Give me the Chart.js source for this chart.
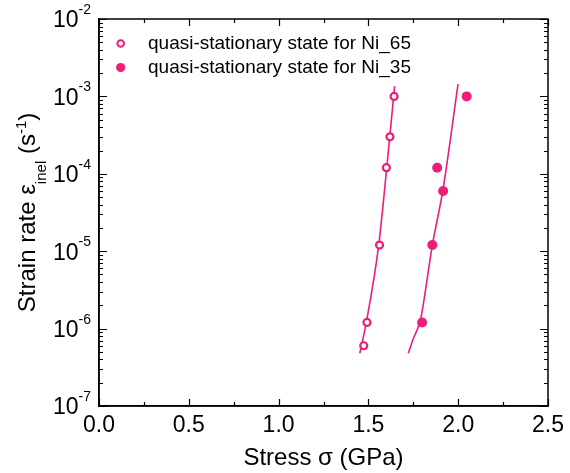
<!DOCTYPE html>
<html>
<head>
<meta charset="utf-8">
<script src="https://cdn.jsdelivr.net/npm/chart.js@4"></script>
<style>
  html, body { margin: 0; padding: 0; background: #fff; }
  #wrap { width: 570px; height: 473px; }
</style>
</head>
<body>
<div id="wrap"><canvas id="chartStrain" width="570" height="473"></canvas></div>
<script>
// measured points (stress in GPa, strain rate in 1/s)
const ni65Stress = [1.474, 1.492, 1.562, 1.600, 1.620, 1.643];
const ni65Rate   = [6e-7, 1.2e-6, 1.2e-5, 1.2e-4, 3e-4, 1e-3];
const ni35Stress = [1.799, 1.856, 1.883, 1.916, 2.047];
const ni35Rate   = [1.2e-6, 1.2e-5, 1.2e-4, 6e-5, 1e-3];

// fit curves
const fit65Stress = [1.452, 1.487, 1.557, 1.602, 1.646];
const fit65Rate   = [4.8e-7, 1.16e-6, 1.18e-5, 1.19e-4, 1.36e-3];
const fit35Stress = [1.722, 1.752, 1.790, 1.856, 1.914, 1.999];
const fit35Rate   = [4.8e-7, 7.6e-7, 1.3e-6, 1.2e-5, 6e-5, 1.44e-3];

const xTicks = [0, 0.5, 1.0, 1.5, 2.0, 2.5];
const yDecades = [-7, -6, -5, -4, -3, -2];
const seriesLabels = ["quasi-stationary state for Ni_65", "quasi-stationary state for Ni_35"];

const pink = "#ec1e79";
const fontFam = '"Liberation Sans", Arial, sans-serif';

const toPts = (xs, ys) => xs.map((v, i) => ({ x: v, y: ys[i] }));

function fnt(size) { return `${size}px ${fontFam}`; }

// frame, inward ticks, log labels, y title and legend
const decorations = {
  id: "decorations",
  afterDraw(chart) {
    const { ctx, chartArea: ca } = chart;
    const xs = chart.scales.x, ys = chart.scales.y;
    ctx.save();
    ctx.strokeStyle = "#000";
    ctx.lineWidth = 1.5;
    ctx.strokeRect(ca.left, ca.top, ca.right - ca.left, ca.bottom - ca.top);

    ctx.lineWidth = 1.2;
    ctx.beginPath();
    const xTick = (v, len) => {
      const px = Math.round(xs.getPixelForValue(v)) + 0.5;
      ctx.moveTo(px, ca.bottom); ctx.lineTo(px, ca.bottom - len);
      ctx.moveTo(px, ca.top); ctx.lineTo(px, ca.top + len);
    };
    const yTick = (v, len) => {
      const py = Math.round(ys.getPixelForValue(v)) + 0.5;
      ctx.moveTo(ca.left, py); ctx.lineTo(ca.left + len, py);
      ctx.moveTo(ca.right, py); ctx.lineTo(ca.right - len, py);
    };
    xTicks.forEach((v, i) => {
      xTick(v, 7);
      if (i < xTicks.length - 1) xTick((v + xTicks[i + 1]) / 2, 4);
    });
    yDecades.forEach((d, i) => {
      yTick(Math.pow(10, d), 8);
      if (i < yDecades.length - 1)
        for (let m = 2; m <= 9; m++) yTick(m * Math.pow(10, d), 4);
    });
    ctx.stroke();

    // y tick labels 10^n
    ctx.fillStyle = "#000";
    ctx.textBaseline = "alphabetic";
    yDecades.forEach(d => {
      const py = ys.getPixelForValue(Math.pow(10, d));
      const sup = String(d);
      ctx.font = fnt(14);
      const supW = ctx.measureText(sup).width;
      const right = 91;
      ctx.textAlign = "left";
      ctx.fillText(sup, right - supW, py - 5);
      ctx.font = fnt(23);
      ctx.textAlign = "right";
      ctx.fillText("10", right - supW, py + 8.3);
    });

    // y title with subscript / superscript
    const parts = [
      { t: "Strain rate \u03b5", size: 24, dy: 0 },
      { t: "inel", size: 15, dy: 11 },
      { t: " (s", size: 24, dy: 0 },
      { t: "-1", size: 15, dy: -9 },
      { t: ")", size: 24, dy: 0 }
    ];
    let total = 0;
    parts.forEach(p => { ctx.font = fnt(p.size); p.w = ctx.measureText(p.t).width; total += p.w; });
    ctx.translate(35, (ca.top + ca.bottom) / 2);
    ctx.rotate(-Math.PI / 2);
    ctx.textAlign = "left";
    let cx = -total / 2;
    parts.forEach(p => { ctx.font = fnt(p.size); ctx.fillText(p.t, cx, p.dy); cx += p.w; });
    ctx.setTransform(1, 0, 0, 1, 0, 0);

    // legend inside plot
    const rows = [
      { label: chart.data.datasets[0].label, open: true, y: 43.5 },
      { label: chart.data.datasets[1].label, open: false, y: 67.5 }
    ];
    rows.forEach(r => {
      ctx.beginPath();
      if (r.open) {
        ctx.arc(120.7, r.y, 3.3, 0, Math.PI * 2);
        ctx.fillStyle = "#fff"; ctx.fill();
        ctx.strokeStyle = pink; ctx.lineWidth = 2; ctx.stroke();
      } else {
        ctx.arc(120.7, r.y, 4.6, 0, Math.PI * 2);
        ctx.fillStyle = pink; ctx.fill();
      }
      ctx.fillStyle = "#000";
      ctx.font = fnt(19);
      ctx.textAlign = "left";
      ctx.textBaseline = "middle";
      ctx.fillText(r.label, 148, r.y);
    });
    ctx.restore();
  }
};

new Chart(document.getElementById("chartStrain"), {
  type: "scatter",
  data: {
    datasets: [
      { label: seriesLabels[0], data: toPts(ni65Stress, ni65Rate), pointStyle: "circle",
        pointRadius: 3.5, borderWidth: 2.2, borderColor: pink, backgroundColor: "#fff", order: 0 },
      { label: seriesLabels[1], data: toPts(ni35Stress, ni35Rate), pointStyle: "circle",
        pointRadius: 5, borderWidth: 0, borderColor: pink, backgroundColor: pink, order: 0 },
      { label: "fit Ni_65", data: toPts(fit65Stress, fit65Rate), showLine: true, pointRadius: 0,
        borderColor: pink, borderWidth: 1.6, cubicInterpolationMode: "monotone", order: 1 },
      { label: "fit Ni_35", data: toPts(fit35Stress, fit35Rate), showLine: true, pointRadius: 0,
        borderColor: pink, borderWidth: 1.6, cubicInterpolationMode: "monotone", order: 1 }
    ]
  },
  options: {
    responsive: false,
    animation: false,
    devicePixelRatio: 1,
    layout: { padding: { top: 19, right: 17, left: 0, bottom: 0 } },
    plugins: { legend: { display: false }, tooltip: { enabled: false } },
    scales: {
      x: {
        type: "linear", min: 0, max: 2.5,
        afterBuildTicks: s => { s.ticks = xTicks.map(v => ({ value: v })); },
        afterFit: s => { s.height = 67; },
        grid: { display: false, drawTicks: false },
        border: { display: true, color: "#000", width: 1.5 },
        ticks: { color: "#000", padding: 6, maxRotation: 0, autoSkip: false,
                 font: { family: fontFam, size: 23, lineHeight: 1.2 },
                 callback: v => Number(v).toFixed(1) },
        title: { display: true, text: "Stress \u03c3 (GPa)", color: "#000",
                 font: { family: fontFam, size: 24, lineHeight: 1 }, padding: { top: 0, bottom: 3 } }
      },
      y: {
        type: "logarithmic", min: 1e-7, max: 1e-2,
        afterBuildTicks: s => { s.ticks = yDecades.map(d => ({ value: Math.pow(10, d) })); },
        afterFit: s => { s.width = 99; },
        grid: { display: false, drawTicks: false },
        border: { display: true, color: "#000", width: 1.5 },
        ticks: { display: false }
      }
    }
  },
  plugins: [decorations]
});
</script>
</body>
</html>
